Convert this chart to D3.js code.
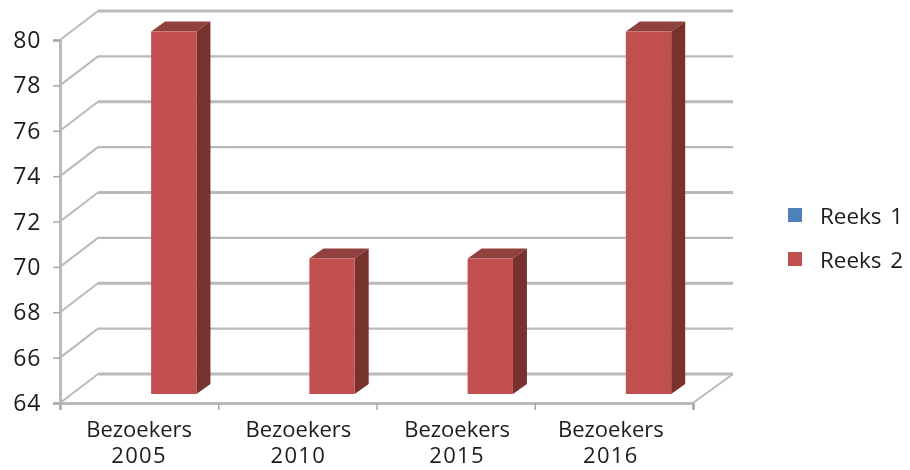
<!DOCTYPE html>
<html><head><meta charset="utf-8">
<script src="https://cdn.jsdelivr.net/npm/d3@7"></script>
<style>html,body{margin:0;padding:0;background:#fff}svg{display:block}text{font-family:"Open Sans",sans-serif;fill:#1c1c1c}</style>
</head><body><svg id="c" width="910" height="470"></svg>
<script>
const categories=["Bezoekers 2005","Bezoekers 2010","Bezoekers 2015","Bezoekers 2016"];
const seriesNames=["Reeks 1","Reeks 2"];
const reeks1=[0,0,0,0];
const reeks2=[80,70,70,80];
const yTicks=[64,66,68,70,72,74,76,78,80];
const seriesColors=["#4f81bd","#c0504d"];
const topColor="#90403d", sideColor="#78302e";
const labelShift=[0,1,1.5,-3];

const plotL=60,plotR=693,plotB=403,plotT=40;
const wallDx=38,wallDy=-29; const barDx=12,barDy=-9; const bd=14,bdy=-10;
const svg=d3.select("#c");
const defs=svg.append("defs");
defs.append("filter").attr("id","soft").attr("x","-5%").attr("y","-5%").attr("width","110%").attr("height","110%")
  .append("feGaussianBlur").attr("stdDeviation",0.6);
defs.append("filter").attr("id","softText").attr("x","-5%").attr("y","-5%").attr("width","110%").attr("height","110%")
  .append("feGaussianBlur").attr("stdDeviation",0.3);

const y=d3.scaleLinear().domain([64,80]).range([plotB,plotT]);
const x=d3.scaleBand().domain(categories).range([plotL,plotR]);
const s=d3.scaleBand().domain(seriesNames).range([0,x.bandwidth()]).paddingInner(0).paddingOuter(0.746);
const g=svg.append("g").attr("filter","url(#soft)");
const grid="#bababa";

// walls
g.selectAll("line.back").data(yTicks).join("line").attr("class","back")
  .attr("x1",plotL+wallDx).attr("x2",plotR+40).attr("y1",d=>y(d)+wallDy).attr("y2",d=>y(d)+wallDy)
  .attr("stroke",grid).attr("stroke-width",d=>(d%4===0)?3:2.4);
g.selectAll("line.side").data(yTicks).join("line").attr("class","side")
  .attr("x1",plotL).attr("x2",plotL+wallDx).attr("y1",d=>y(d)).attr("y2",d=>y(d)+wallDy)
  .attr("stroke",grid).attr("stroke-width",2);
g.append("line").attr("x1",plotR).attr("y1",plotB).attr("x2",plotR+40).attr("y2",plotB+wallDy)
  .attr("stroke",grid).attr("stroke-width",2);

// axes
const yAxis=d3.axisLeft(y).tickValues(yTicks).tickSize(7).tickFormat("");
const ya=g.append("g").attr("transform",`translate(${plotL},0)`).call(yAxis);
const xAxis=d3.axisBottom(d3.scaleLinear().domain([0,4]).range([plotL,plotR])).tickValues([0,1,2,3,4]).tickSize(7).tickFormat("");
const xa=g.append("g").attr("transform",`translate(0,${plotB})`).call(xAxis);
[ya,xa].forEach(a=>{a.selectAll("path").attr("stroke",grid).attr("stroke-width",3);a.selectAll("line").attr("stroke","#a8a8a8").attr("stroke-width",1.5);});

// bars
const rows=[];
categories.forEach((c,i)=>{
  [reeks1,reeks2].forEach((vals,j)=>{ if(vals[i]>64) rows.push({c,name:seriesNames[j],v:vals[i],color:seriesColors[j]}); });
});
const bw=s.bandwidth();
const bars=g.selectAll("g.bar").data(rows).join("g").attr("class","bar");
const bx=d=>x(d.c)+s(d.name)+barDx;
const by=d=>y(d.v)+barDy+0.6, b0=()=>y(64)+barDy;
bars.append("polygon").attr("fill",topColor).attr("points",d=>{
  const a=bx(d),t=by(d);return [[a,t],[a+bw,t],[a+bw+bd,t+bdy],[a+bd,t+bdy]].join(" ");});
bars.append("polygon").attr("fill",sideColor).attr("points",d=>{
  const a=bx(d)+bw,t=by(d),b=b0();return [[a,t],[a+bd,t+bdy],[a+bd,b+bdy],[a,b]].join(" ");});
bars.append("rect").attr("x",bx).attr("y",by).attr("width",bw).attr("height",d=>b0()-by(d)).attr("fill",d=>d.color);

const tg=svg.append("g").attr("filter","url(#softText)");
// y labels
tg.append("g").selectAll("text").data(yTicks).join("text")
  .attr("x",41.5).attr("y",d=>y(d)).attr("dy","0.35em").attr("text-anchor","end").attr("font-size",23).attr("letter-spacing",1).text(d=>d);

// x labels
tg.append("g").selectAll("text").data(categories).join("text")
  .attr("text-anchor","middle").attr("font-size",22)
  .each(function(d,i){
    const parts=d.split(" "),t=d3.select(this),cx=x(d)+x.bandwidth()/2+labelShift[i];
    t.append("tspan").attr("x",cx).attr("y",437).text(parts[0]);
    t.append("tspan").attr("x",cx).attr("y",463).attr("letter-spacing",1.4).text(parts[1]);
  });

// legend
const lg=svg.append("g");
const ly=d3.scalePoint().domain(seriesNames).range([215,259]);
lg.selectAll("rect").data(seriesNames).join("rect")
  .attr("x",788).attr("y",d=>ly(d)-7).attr("width",14).attr("height",14)
  .attr("fill",(d,i)=>seriesColors[i]);
tg.append("g").selectAll("text").data(seriesNames).join("text")
  .attr("x",820).attr("y",d=>ly(d)+8.5).attr("font-size",22.4).attr("word-spacing",3).text(d=>d);
</script></body></html>
